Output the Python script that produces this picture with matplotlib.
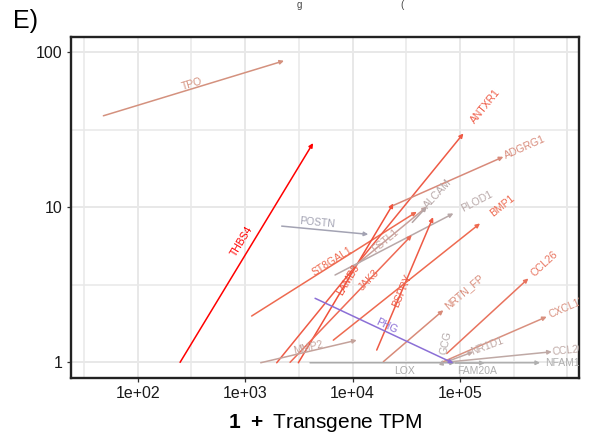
import matplotlib
matplotlib.use("Agg")
import matplotlib.pyplot as plt
import numpy as np

plt.rcParams["font.family"] = ["Liberation Sans", "DejaVu Sans"]
plt.rcParams["mathtext.fontset"] = "custom"
plt.rcParams["mathtext.rm"] = "Liberation Sans"
plt.rcParams["mathtext.bf"] = "Liberation Sans:bold"

# arrows: from (x0, y0) to (x1, y1)
genes = ["TPO", "THBS4", "POSTN", "ST8GAL1", "LAMB3", "ANTXR1", "ADGRG1", "FSTL1",
         "PLOD1", "JAK3", "BSPRY", "BMP1", "NRTN_FP", "CCL26", "CXCL13", "CCL20",
         "NR1D1", "NFAM1", "LOX", "PHG", "MMP2", "ALCAM", "GCG", "FAM20A"]
x0 = [47.9, 248, 2190, 1150, 3130, 1968, 24000, 9840,
      6870, 2620, 16790, 6620, 19360, 75300, 70000, 72600,
      72600, 89900, 4020, 4480, 1397, 36000, 68000, 89900]
y0 = [39.0, 1.0, 7.57, 1.99, 0.994, 0.994, 10.3, 4.03,
      3.66, 1.0, 1.20, 1.39, 1.01, 1.14, 1.01, 1.0,
      1.0, 0.994, 0.994, 2.59, 0.994, 8.0, 0.99, 0.99]
x1 = [2300, 4290, 14000, 39600, 24000, 107700, 253600, 49100,
      86900, 35600, 56200, 153800, 70000, 433500, 642000, 716000,
      133000, 557000, 89900, 86900, 10940, 49100, 69000, 170000]
y1 = [88.3, 26.0, 6.70, 9.37, 10.6, 30.0, 21.2, 10.1,
      9.14, 6.62, 8.65, 7.88, 2.17, 3.48, 1.97, 1.17,
      1.17, 0.994, 0.994, 0.987, 1.39, 10.1, 1.04, 0.99]

# style: colour per arrow, label position along the arrow (fraction) and offset (points)
colors = ["#D4917E", "#FF0000", "#A3A3B3", "#EE6A50", "#F0503A", "#EE5A45", "#D88A7A", "#C8A09A",
          "#B8A8A8", "#EE6A55", "#EE5A45", "#EE6A50", "#D88A78", "#E8735E", "#D9907F", "#BFA9A5",
          "#C0A8A4", "#AFAFAF", "#AAAAAA", "#8B6FD6", "#C4A29B", "#B5A5A5", "#B5ABAB", "#AFAFAF"]
lab_t = [0.5, 0.53, 0.4, 0.5, 0.52, 1.12, 1.2, 0.45,
         1.2, 0.65, 0.45, 1.15, 1.35, 1.2, 1.2, 1.15,
         1.5, 1.26, 0.65, 0.5, 0.5, 1.8, 6.0, 0.75]
lab_off = [3, 7, 5, 2, 0, 0, 0, 0,
           0, 0, 0, 0, 0, 0, 0, 0,
           0, 0, -6, 4, 3, 0, 0, -6]

fig = plt.figure(figsize=(5.89, 4.38), dpi=100)
ax = fig.add_axes([0.120, 0.1377, 0.863, 0.778])
ax.set_xscale("log")
ax.set_yscale("log")
ax.set_xlim(10 ** 1.376, 10 ** 6.108)
ax.set_ylim(10 ** -0.099, 10 ** 2.1)

# grid like theme_bw
gc = "#E8E8E8"
for e in range(1, 7):
	ax.axvline(10 ** e, color = gc, lw = 1.4, zorder = 0)
	ax.axvline(10 ** (e + 0.5), color = gc, lw = 1.1, zorder = 0)
for e in range(-1, 3):
	ax.axhline(10 ** e, color = gc, lw = 1.4, zorder = 0)
	ax.axhline(10 ** (e + 0.5), color = gc, lw = 1.1, zorder = 0)

for i in range(len(genes)):
	ax.annotate("", xy = (x1[i], y1[i]), xytext = (x0[i], y0[i]),
		arrowprops = dict(arrowstyle = "-|>", color = colors[i], lw = 1.1,
			mutation_scale = 6, shrinkA = 0, shrinkB = 0), zorder = 3)

# labels rotated along the arrow
for i in range(len(genes)):
	p0 = ax.transData.transform((x0[i], y0[i]))
	p1 = ax.transData.transform((x1[i], y1[i]))
	d = p1 - p0
	ang = np.degrees(np.arctan2(d[1], d[0]))
	if ang > 90:
		ang -= 180
	if ang < -90:
		ang += 180
	p = p0 + lab_t[i] * d
	n = np.array([-d[1], d[0]]) / np.hypot(d[0], d[1])
	if n[1] < 0:
		n = -n
	p = p + n * lab_off[i] * fig.dpi / 72.0
	ax.text(p[0], p[1], genes[i], transform = None, rotation = ang, rotation_mode = "anchor",
		ha = "center", va = "center", fontsize = 7.5, color = colors[i], zorder = 4, clip_on = True)

for s in ax.spines.values():
	s.set_linewidth(1.7)
	s.set_color("#222222")

ax.set_xticks([1e2, 1e3, 1e4, 1e5])
ax.set_xticklabels(["1e+02", "1e+03", "1e+04", "1e+05"])
ax.set_yticks([1, 10, 100])
ax.set_yticklabels(["1", "10", "100"])
ax.minorticks_off()
ax.tick_params(length = 3, width = 0.9, color = "#333333", labelsize = 11.5, labelcolor = "#1a1a1a", pad = 3)
ax.set_xlabel(r"$\bf{1\ +}$ Transgene TPM", fontsize = 15, labelpad = 8)

fig.text(13 / 589, 1 - 28 / 438, "E)", fontsize = 18, va = "baseline")
fig.text(0.503, 0.999, "g", fontsize = 7, va = "top", color = "#444444")
fig.text(0.680, 0.999, "(", fontsize = 7, va = "top", color = "#444444")

fig.savefig("out.png", dpi = 100)
